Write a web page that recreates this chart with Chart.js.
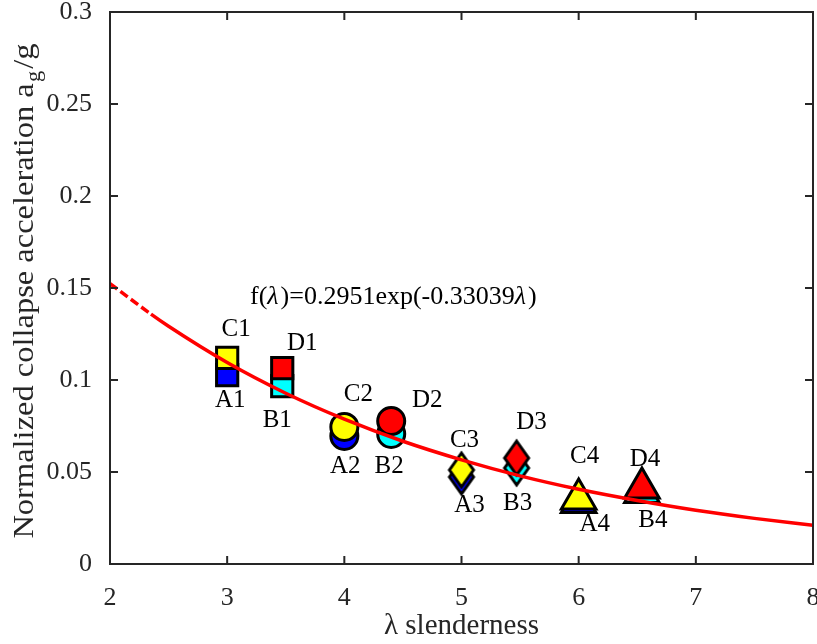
<!DOCTYPE html>
<html>
<head>
<meta charset="utf-8">
<script src="https://cdn.jsdelivr.net/npm/chart.js@4.4.1/dist/chart.umd.min.js"></script>
<style>
  html, body { margin: 0; padding: 0; background: #fff; }
</style>
</head>
<body>
<canvas id="chart" width="817" height="644"></canvas>
<script>
// points (4 series A..D, 4 groupes)
const xA = [3.0, 4.0, 5.0, 6.0];
const yA = [0.1027, 0.0696, 0.0473, 0.0334];
const xB = [3.47, 4.4, 5.47, 6.54];
const yB = [0.0967, 0.0707, 0.0522, 0.0389];
const xC = [3.0, 4.0, 5.0, 6.0];
const yC = [0.1120, 0.0745, 0.0511, 0.0353];
const xD = [3.47, 4.4, 5.47, 6.54];
const yD = [0.1065, 0.0777, 0.0576, 0.0413];

const namesA = ['A1', 'A2', 'A3', 'A4'];
const namesB = ['B1', 'B2', 'B3', 'B4'];
const namesC = ['C1', 'C2', 'C3', 'C4'];
const namesD = ['D1', 'D2', 'D3', 'D4'];

// courbe d'ajustement
const fitX = [2, 2.35, 2.5, 3, 3.5, 4, 4.5, 5, 5.5, 6, 6.5, 7, 7.5, 8];
const fitY = [0.1524, 0.1358, 0.1292, 0.1095, 0.0928, 0.0787, 0.0667, 0.0566, 0.0479, 0.0406, 0.0345, 0.0292, 0.0248, 0.0210];

const xTicks = [2, 3, 4, 5, 6, 7, 8];
const xTickLabels = ['2', '3', '4', '5', '6', '7', '8'];
const yTicks = [0, 0.05, 0.1, 0.15, 0.2, 0.25, 0.3];
const yTickLabels = ['0', '0.05', '0.1', '0.15', '0.2', '0.25', '0.3'];

// décalage des étiquettes (px) par rapport au point
const offA = [[3, 25], [1, 31], [8, 28], [16, 22]];
const offB = [[-5, 34], [-2, 33], [1, 35], [11, 28]];
const offC = [[9, -28], [14, -32], [3, -30], [6, -43]];
const offD = [[20, -25], [36, -21], [15, -36], [3, -29]];

const SERIF = '"Liberation Serif", "Times New Roman", serif';
const INK = '#262626';

// losange étroit (style matlab 'd')
function diamond(color) {
  const c = document.createElement('canvas');
  c.width = 30; c.height = 40;
  const g = c.getContext('2d');
  g.beginPath();
  g.moveTo(15, 3); g.lineTo(27, 20); g.lineTo(15, 37); g.lineTo(3, 20);
  g.closePath();
  g.fillStyle = color; g.fill();
  g.lineWidth = 3; g.strokeStyle = '#000'; g.stroke();
  return c;
}

function toPts(xs, ys) {
  return xs.map((x, i) => ({ x: x, y: ys[i] }));
}

function series(label, xs, ys, color, order) {
  return {
    type: 'scatter',
    label: label,
    data: toPts(xs, ys),
    order: order,
    pointStyle: ['rect', 'circle', diamond(color), 'triangle'],
    pointRadius: [15, 13.5, 18, 20],
    pointBackgroundColor: color,
    pointBorderColor: '#000',
    pointBorderWidth: 3
  };
}

const groups = [
  { xs: xA, ys: yA, names: namesA, off: offA },
  { xs: xB, ys: yB, names: namesB, off: offB },
  { xs: xC, ys: yC, names: namesC, off: offC },
  { xs: xD, ys: yD, names: namesD, off: offD }
];

const decor = {
  id: 'decor',
  afterDraw(chart) {
    const ctx = chart.ctx;
    const a = chart.chartArea;
    const sx = chart.scales.x, sy = chart.scales.y;
    ctx.save();

    // cadre + graduations intérieures
    ctx.strokeStyle = INK;
    ctx.lineWidth = 2;
    ctx.strokeRect(a.left, a.top, a.right - a.left, a.bottom - a.top);
    ctx.beginPath();
    xTicks.forEach(v => {
      const px = sx.getPixelForValue(v);
      ctx.moveTo(px, a.bottom); ctx.lineTo(px, a.bottom - 8);
      ctx.moveTo(px, a.top); ctx.lineTo(px, a.top + 8);
    });
    yTicks.forEach(v => {
      const py = sy.getPixelForValue(v);
      ctx.moveTo(a.left, py); ctx.lineTo(a.left + 8, py);
      ctx.moveTo(a.right, py); ctx.lineTo(a.right - 8, py);
    });
    ctx.stroke();

    // étiquettes des points
    ctx.fillStyle = '#000';
    ctx.font = '25px ' + SERIF;
    ctx.textAlign = 'center';
    ctx.textBaseline = 'middle';
    groups.forEach(gr => {
      gr.xs.forEach((x, i) => {
        const px = sx.getPixelForValue(x) + gr.off[i][0];
        const py = sy.getPixelForValue(gr.ys[i]) + gr.off[i][1];
        ctx.fillText(gr.names[i], px, py);
      });
    });

    // formule
    ctx.textAlign = 'left';
    ctx.textBaseline = 'alphabetic';
    const parts = [['f(', false], ['\u03bb', true], [')=0.2951exp(-0.33039', false], ['\u03bb', true], [')', false]];
    let fx = 250;
    parts.forEach(p => {
      ctx.font = (p[1] ? 'italic ' : '') + '26px ' + SERIF;
      ctx.fillText(p[0], fx, 304);
      fx += ctx.measureText(p[0]).width + (p[1] ? 2 : 0);
    });
    ctx.restore();

    // titre axe y avec indice (un peu étiré comme l'original)
    ctx.save();
    ctx.fillStyle = INK;
    ctx.textBaseline = 'alphabetic';
    ctx.textAlign = 'left';
    const stretch = 1.12;
    const main = 'Normalized collapse acceleration a';
    ctx.font = '29px ' + SERIF;
    const w1 = ctx.measureText(main).width;
    const w3 = ctx.measureText('/g').width;
    ctx.font = '20px ' + SERIF;
    const w2 = ctx.measureText('g').width;
    const total = (w1 + w2 + w3 + 3) * stretch;
    ctx.translate(33, 291 + total / 2);
    ctx.rotate(-Math.PI / 2);
    ctx.scale(stretch, 1);
    ctx.font = '29px ' + SERIF;
    ctx.fillText(main, 0, 0);
    ctx.font = '20px ' + SERIF;
    ctx.fillText('g', w1 + 1, 7);
    ctx.font = '29px ' + SERIF;
    ctx.fillText('/g', w1 + w2 + 3, 0);
    ctx.restore();
  }
};

new Chart(document.getElementById('chart').getContext('2d'), {
  data: {
    datasets: [
      {
        type: 'line',
        label: 'fit',
        data: toPts(fitX, fitY),
        order: 0,
        borderColor: '#ff0000',
        borderWidth: 3.5,
        pointRadius: 0,
        fill: false,
        cubicInterpolationMode: 'monotone',
        segment: {
          borderDash: c => (c.p0.parsed.x < 2.3 ? [9, 4] : undefined)
        }
      },
      series('A', xA, yA, '#0000ff', 4),
      series('B', xB, yB, '#00ffff', 3),
      series('C', xC, yC, '#ffff00', 2),
      series('D', xD, yD, '#ff0000', 1)
    ]
  },
  options: {
    responsive: false,
    animation: false,
    devicePixelRatio: 1,
    layout: { autoPadding: false, padding: { top: 12, right: 4, bottom: 0, left: 0 } },
    plugins: { legend: { display: false }, tooltip: { enabled: false } },
    scales: {
      x: {
        type: 'linear',
        min: 2, max: 8,
        grid: { display: false },
        border: { display: false },
        afterBuildTicks: s => { s.ticks = xTicks.map(v => ({ value: v })); },
        afterFit: s => { s.height = 80; s.paddingLeft = 0; s.paddingRight = 0; },
        ticks: {
          padding: 11,
          color: INK,
          font: { family: SERIF, size: 26 },
          callback: v => xTickLabels[xTicks.indexOf(v)]
        },
        title: {
          display: true,
          text: '\u03bb slenderness',
          color: INK,
          font: { family: SERIF, size: 29 },
          padding: { top: 0, bottom: 0 }
        }
      },
      y: {
        type: 'linear',
        min: 0, max: 0.3,
        grid: { display: false },
        border: { display: false },
        afterBuildTicks: s => { s.ticks = yTicks.map(v => ({ value: v })); },
        afterFit: s => { s.width = 110; s.paddingTop = 0; s.paddingBottom = 0; },
        ticks: {
          padding: 10,
          color: INK,
          font: { family: SERIF, size: 26 },
          callback: v => yTickLabels[yTicks.indexOf(v)]
        }
      }
    }
  },
  plugins: [decor]
});
</script>
</body>
</html>
